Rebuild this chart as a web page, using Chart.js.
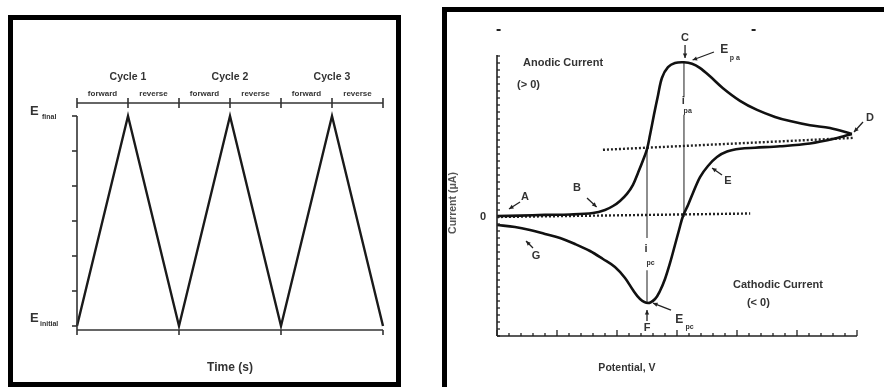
<!DOCTYPE html>
<html><head><meta charset="utf-8">
<script src="https://cdn.jsdelivr.net/npm/chart.js@4/dist/chart.umd.min.js"></script>
<style>
html,body{margin:0;padding:0;background:#fff;overflow:hidden;width:884px;height:387px;position:relative}
.frame{position:absolute;border:5px solid #000;box-sizing:border-box}
#f1{left:8px;top:15px;width:393px;height:372px}
#f2{left:442px;top:7px;width:460px;height:400px}
canvas{position:absolute;top:0}
#c1{left:0}
#c2{left:420px}
</style></head><body>
<div class="frame" id="f1"></div><div class="frame" id="f2"></div>
<canvas id="c1" width="420" height="387"></canvas>
<canvas id="c2" width="464" height="387"></canvas>
<script>
// ---------- Left panel: triangular potential sweep ----------
const sweepTimes = [0, 1, 2, 3, 4, 5, 6];
const sweepPotential = [0, 1, 0, 1, 0, 1, 0];
const potentialTicks = [0, 1/6, 2/6, 3/6, 4/6, 5/6, 1];
const cycleLabels = ['Cycle 1', 'Cycle 2', 'Cycle 3'];
const cycleCenters = [1, 3, 5];
const halfLabels = ['forward', 'reverse', 'forward', 'reverse', 'forward', 'reverse'];
const halfCenters = [0.5, 1.5, 2.5, 3.5, 4.5, 5.5];
const halfBounds = [0, 1, 2, 3, 4, 5, 6];
const cycleBounds = [0, 2, 4, 6];

// ---------- Right panel: cyclic voltammogram ----------
const cvForwardX = [0, 1.92, 4, 6.08, 8, 9, 9.67, 10.25, 10.83, 11.33, 11.75, 12.17, 12.5, 12.75, 13.08, 13.42, 13.75, 14.25, 14.83, 15.58, 16.25, 16.9, 17.75, 18.83, 20.25, 21.67, 23.17, 24.42, 26.08, 27.75, 29.58];
const cvForwardY = [0.14, 0.2, 0.3, 0.36, 0.57, 1.0, 1.57, 2.3, 3.3, 4.6, 6.3, 8.1, 9.7, 11.7, 14.6, 17.4, 19.9, 21.4, 22, 22.1, 21.9, 21.3, 20.1, 18.4, 16.6, 15.3, 14.3, 13.7, 13.1, 12.7, 11.86];
const cvReverseX = [29.58, 28.17, 26.08, 23.58, 21.5, 20.25, 19.17, 18.33, 17.58, 16.92, 16.33, 15.92, 15.5, 15.17, 14.83, 14.42, 14, 13.58, 13.17, 12.58, 11.92, 11.33, 10.67, 9.83, 8.83, 7.75, 6.5, 5.25, 4, 2.75, 1.5, 0];
const cvReverseY = [11.86, 11.2, 10.5, 10.1, 9.9, 9.75, 9.35, 8.57, 7.29, 5.71, 3.43, 1.71, 0.14, -1.86, -4, -6.57, -8.86, -10.57, -11.71, -12.29, -11.71, -10.43, -8.71, -7.14, -6, -4.86, -3.86, -3, -2.43, -1.86, -1.43, -1.14];
const zeroBaseX = [0, 21.1];
const zeroBaseY = [0, 0.5];
const returnBaseX = [8.83, 29.67];
const returnBaseY = [9.6, 11.3];
const ipaX = 15.58; const ipaY = [22.1, 17.1, 14.6, 0];
const ipcX = 12.5;  const ipcY = [9.7, -3.0, -7.6, -12.29];
const potMin = 0, potMax = 30, curMin = -17, curMax = 23;

// annotations: [text, x, y]
const pointLabels = [['A', 2.33, 2.86], ['B', 6.67, 4.14], ['C', 15.67, 25.6], ['D', 31.08, 14.14], ['E', 19.25, 5.14], ['F', 12.5, -15.9], ['G', 3.25, -5.57]];
const arrows = [[1.92, 2.14, 1.0, 1.14], [7.5, 2.71, 8.3, 1.43], [15.67, 24.57, 15.67, 22.71], [18.08, 23.57, 16.3, 22.43], [30.5, 13.57, 29.75, 12.14], [18.75, 6.0, 17.92, 7.0], [3.0, -4.43, 2.42, -3.43], [12.5, -14.86, 12.5, -13.29], [14.5, -13.29, 13.0, -12.29]];

const pairs = (xs, ys) => xs.map((x, i) => ({x, y: ys[i]}));
const FONT = '"Liberation Sans", Arial, sans-serif';
const TXT = '#333';

function seg(ctx, x1, y1, x2, y2) { ctx.beginPath(); ctx.moveTo(x1, y1); ctx.lineTo(x2, y2); ctx.stroke(); }

const leftPlugin = {
  id: 'leftDeco',
  afterDatasetsDraw(chart) {
    const ctx = chart.ctx, xs = chart.scales.x, ys = chart.scales.y;
    ctx.save();
    ctx.strokeStyle = '#333'; ctx.lineWidth = 1.6;
    const x0 = xs.getPixelForValue(0), x6 = xs.getPixelForValue(6);
    const yTop = ys.getPixelForValue(1), yBot = ys.getPixelForValue(0) + 4;
    seg(ctx, x0, yTop, x0, yBot);
    potentialTicks.forEach(v => { const y = ys.getPixelForValue(v); seg(ctx, x0 - 5, y, x0, y); });
    seg(ctx, x0, yBot, x6, yBot);
    cycleBounds.forEach(t => { const x = xs.getPixelForValue(t); seg(ctx, x, yBot, x, yBot + 5); });
    const yBar = yTop - 13;
    seg(ctx, x0, yBar, x6, yBar);
    halfBounds.forEach(t => { const x = xs.getPixelForValue(t); seg(ctx, x, yBar - 5, x, yBar + 5); });
    ctx.fillStyle = TXT; ctx.textAlign = 'center'; ctx.textBaseline = 'middle';
    ctx.font = 'bold 10.5px ' + FONT;
    cycleLabels.forEach((l, i) => ctx.fillText(l, xs.getPixelForValue(cycleCenters[i]), yBar - 26));
    ctx.font = 'bold 8px ' + FONT;
    halfLabels.forEach((l, i) => ctx.fillText(l, xs.getPixelForValue(halfCenters[i]), yBar - 9));
    ctx.font = 'bold 12px ' + FONT;
    ctx.fillText('Time (s)', (x0 + x6) / 2, 368);
    // y labels
    ctx.textAlign = 'left';
    ctx.font = 'bold 13px ' + FONT;
    ctx.fillText('E', 30, ys.getPixelForValue(1) - 5);
    ctx.fillText('E', 30, ys.getPixelForValue(0) - 8);
    ctx.font = 'bold 7px ' + FONT;
    ctx.fillText('final', 42, ys.getPixelForValue(1) + 1);
    ctx.fillText('initial', 40, ys.getPixelForValue(0) - 2);
    ctx.restore();
  }
};

new Chart(document.getElementById('c1'), {
  type: 'line',
  data: { datasets: [{ data: pairs(sweepTimes, sweepPotential), borderColor: '#1a1a1a', borderWidth: 2.4, pointRadius: 0, tension: 0, clip: false }] },
  options: {
    responsive: false, animation: false,
    layout: { padding: { left: 77, right: 37, top: 116, bottom: 61 } },
    plugins: { legend: { display: false }, tooltip: { enabled: false } },
    scales: {
      x: { type: 'linear', min: 0, max: 6, display: false },
      y: { type: 'linear', min: 0, max: 1, display: false }
    }
  },
  plugins: [leftPlugin]
});

function drawArrow(ctx, x1, y1, x2, y2) {
  seg(ctx, x1, y1, x2, y2);
  const a = Math.atan2(y2 - y1, x2 - x1), h = 5;
  ctx.beginPath();
  ctx.moveTo(x2, y2);
  ctx.lineTo(x2 - h * Math.cos(a - 0.45), y2 - h * Math.sin(a - 0.45));
  ctx.lineTo(x2 - h * Math.cos(a + 0.45), y2 - h * Math.sin(a + 0.45));
  ctx.closePath(); ctx.fill();
}

const rightPlugin = {
  id: 'rightDeco',
  afterDatasetsDraw(chart) {
    const ctx = chart.ctx, xs = chart.scales.x, ys = chart.scales.y;
    const px = v => xs.getPixelForValue(v), py = v => ys.getPixelForValue(v);
    ctx.save();
    ctx.strokeStyle = '#222'; ctx.fillStyle = '#222'; ctx.lineWidth = 1.6;
    const x0 = px(potMin), x1 = px(potMax), yb = py(curMin), yt = py(curMax);
    seg(ctx, x0, yt - 1, x0, yb);
    seg(ctx, x0, yb, x1, yb);
    ctx.lineWidth = 1.3;
    for (let v = curMin; v <= curMax; v++) { const y = py(v); seg(ctx, x0, y, x0 + 3, y); }
    for (let v = potMin; v <= potMax; v++) { const x = px(v); seg(ctx, x, yb, x, yb - (v % 5 === 0 ? 6 : 3)); }
    // small marks at top
    ctx.fillRect(px(0.05) - 1, 29, 4, 2);
    ctx.fillRect(px(21.3) - 1, 29, 4, 2);
    // arrows
    ctx.lineWidth = 1.3;
    arrows.forEach(a => drawArrow(ctx, px(a[0]), py(a[1]), px(a[2]), py(a[3])));
    // labels
    ctx.fillStyle = TXT; ctx.textBaseline = 'middle'; ctx.textAlign = 'center';
    ctx.font = 'bold 11px ' + FONT;
    pointLabels.forEach(l => ctx.fillText(l[0], px(l[1]), py(l[2])));
    ctx.textAlign = 'left';
    // E_pa
    ctx.font = 'bold 12px ' + FONT; ctx.fillText('E', px(18.6), py(23.9));
    ctx.font = 'bold 7px ' + FONT; ctx.fillText('p a', px(19.4), py(22.7));
    // E_pc
    ctx.font = 'bold 12px ' + FONT; ctx.fillText('E', px(14.85), py(-14.7));
    ctx.font = 'bold 7px ' + FONT; ctx.fillText('pc', px(15.7), py(-15.7));
    // i_pa, i_pc
    ctx.font = 'bold 11px ' + FONT; ctx.fillText('i', px(15.4), py(16.6));
    ctx.fillText('i', px(12.3), py(-4.6));
    ctx.font = 'bold 7px ' + FONT; ctx.fillText('pa', px(15.55), py(15.2));
    ctx.fillText('pc', px(12.45), py(-6.6));
    // region labels
    ctx.font = 'bold 11px ' + FONT;
    ctx.fillText('Anodic Current', px(2.17), py(22));
    ctx.fillText('(> 0)', px(1.67), py(18.86));
    ctx.fillText('Cathodic Current', px(19.67), py(-9.71));
    ctx.fillText('(< 0)', px(20.83), py(-12.29));
    ctx.textAlign = 'center';
    ctx.fillText('0', x0 - 14, py(0));
    ctx.font = 'bold 10.5px ' + FONT;
    ctx.fillText('Potential, V', px(10.83), 368);
    ctx.save();
    ctx.translate(33, py(2));
    ctx.rotate(-Math.PI / 2);
    ctx.fillStyle = '#555';
    ctx.fillText('Current (μA)', 0, 0);
    ctx.restore();
    ctx.restore();
  }
};

new Chart(document.getElementById('c2'), {
  type: 'line',
  data: { datasets: [
    { data: pairs(cvForwardX, cvForwardY), borderColor: '#111', borderWidth: 2.6, pointRadius: 0, tension: 0.35, clip: false },
    { data: pairs(cvReverseX, cvReverseY), borderColor: '#111', borderWidth: 2.6, pointRadius: 0, tension: 0.35, clip: false },
    { data: pairs(zeroBaseX, zeroBaseY), borderColor: '#222', borderWidth: 2.4, borderDash: [2, 2], pointRadius: 0, clip: false },
    { data: pairs(returnBaseX, returnBaseY), borderColor: '#222', borderWidth: 2.4, borderDash: [2, 2], pointRadius: 0, clip: false },
    { data: [{x: ipaX, y: ipaY[0]}, {x: ipaX, y: ipaY[1]}, {x: ipaX, y: null}, {x: ipaX, y: ipaY[2]}, {x: ipaX, y: ipaY[3]}], borderColor: '#444', borderWidth: 1.2, pointRadius: 0, spanGaps: false, clip: false },
    { data: [{x: ipcX, y: ipcY[0]}, {x: ipcX, y: ipcY[1]}, {x: ipcX, y: null}, {x: ipcX, y: ipcY[2]}, {x: ipcX, y: ipcY[3]}], borderColor: '#444', borderWidth: 1.2, pointRadius: 0, spanGaps: false, clip: false }
  ] },
  options: {
    responsive: false, animation: false,
    layout: { padding: { left: 77, right: 27, top: 56, bottom: 51 } },
    plugins: { legend: { display: false }, tooltip: { enabled: false } },
    scales: {
      x: { type: 'linear', min: potMin, max: potMax, display: false },
      y: { type: 'linear', min: curMin, max: curMax, display: false }
    }
  },
  plugins: [rightPlugin]
});
</script>
</body></html>
